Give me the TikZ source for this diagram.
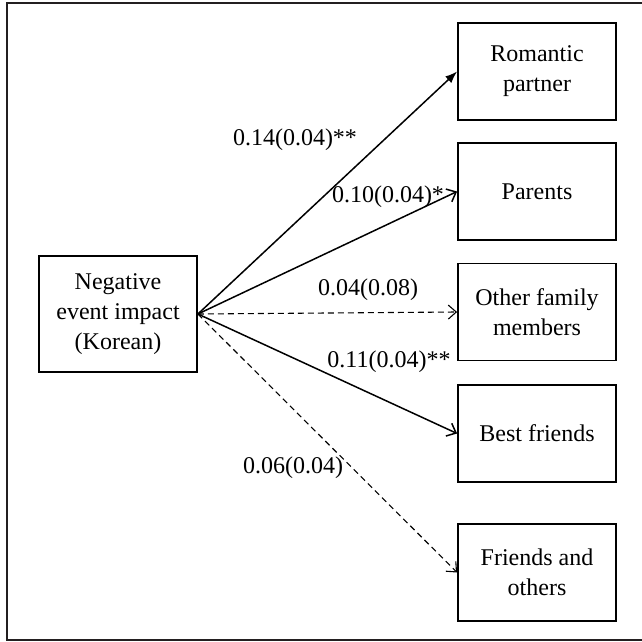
\documentclass[tikz,border=0pt]{standalone}
\usepackage{fontspec}
\setmainfont{Liberation Serif}
\usetikzlibrary{arrows.meta}
\definecolor{framecol}{HTML}{231F20}
\begin{document}
\begin{tikzpicture}[x=1pt,y=-1pt,
  box/.style={draw=black,line width=1.8pt,align=center,inner sep=0pt,
    font=\fontsize{24}{30}\selectfont},
  rbox/.style={box,minimum width=158pt,minimum height=97pt},
  lbl/.style={font=\fontsize{24}{28}\selectfont,inner sep=0pt},
  solidarr/.style={line width=1.5pt,-{Straight Barb[length=8pt,width=14pt,line width=1.5pt]}},
  filledarr/.style={line width=1.5pt,-{Latex[length=12pt,width=9pt]}},
  dasharr/.style={line width=1.1pt,dash pattern=on 6pt off 4pt,-{Straight Barb[length=8pt,width=14pt,line width=1.1pt]}}]
\useasboundingbox (0,0) rectangle (642,642);
\fill[white] (0,0) rectangle (642,642);
\draw[framecol,line width=2.6pt] (7,3) rectangle (660,640);
\node[box,minimum width=158pt,minimum height=116pt] (L) at (118,314) {Negative\\event impact\\(Korean)};
\node[rbox] (R1) at (537,71.5) {Romantic\\partner};
\node[rbox] (R2) at (537,191.5) {Parents};
\node[rbox] (R3) at (537,312) {Other family\\members};
\node[rbox] (R4) at (537,433.5) {Best friends};
\node[rbox] (R5) at (537,572.5) {Friends and\\others};
\draw[filledarr] (L.east) -- (R1.west);
\draw[solidarr] (L.east) -- (R2.west);
\draw[dasharr] (L.east) -- (R3.west);
\draw[solidarr] (L.east) -- (R4.west);
\draw[dasharr] (L.east) -- (R5.west);
\node[lbl] (l1) at (295,140) {0.14(0.04)**};
\node[lbl] (l2) at (388,197) {0.10(0.04)*};
\node[lbl] (l3) at (368,290) {0.04(0.08)};
\node[lbl] (l4) at (389,362) {0.11(0.04)**};
\node[lbl] (l5) at (293,468) {0.06(0.04)};
\end{tikzpicture}
\end{document}
